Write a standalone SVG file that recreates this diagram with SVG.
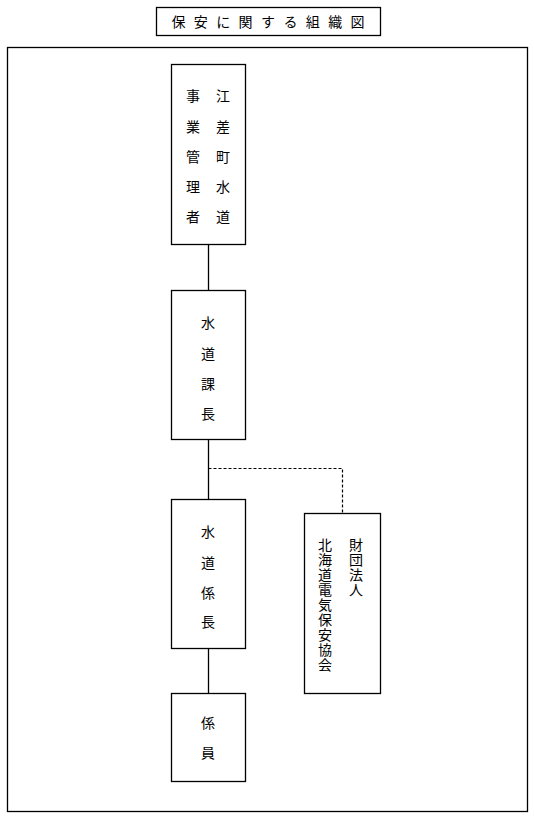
<svg xmlns="http://www.w3.org/2000/svg" width="534" height="819" viewBox="0 0 534 819">
<style>
.box{fill:#fff;stroke:#000;stroke-width:1.3}
.ln{fill:none;stroke:#000;stroke-width:1.3}
.dash{fill:none;stroke:#000;stroke-width:1.2;stroke-dasharray:3 2}
text{font-family:"Noto Sans CJK JP","Noto Sans CJK SC",sans-serif;font-size:14px;fill:#000;text-anchor:middle;dominant-baseline:central}
.v{writing-mode:vertical-rl;text-anchor:start;letter-spacing:1px}
</style>
<rect width="534" height="819" fill="#fff"/>
<g id="title">
<rect class="box" x="156.5" y="7.5" width="224" height="28"/>
<text x="268" y="21" style="letter-spacing:8.4px" dx="4.2">保安に関する組織図</text>
</g>
<rect id="frame" class="box" x="7.5" y="47.5" width="520" height="764"/>
<g id="connectors">
<line class="ln" x1="208.5" y1="244" x2="208.5" y2="290"/>
<line class="ln" x1="208.5" y1="439" x2="208.5" y2="499"/>
<line class="ln" x1="208.5" y1="648" x2="208.5" y2="693"/>
<polyline class="dash" points="208.5,468.5 342.5,468.5 342.5,513"/>
</g>
<g id="n1">
<rect class="box" x="171.5" y="64.5" width="74" height="180"/>
<text><tspan x="223" y="95">江</tspan><tspan x="223" y="126">差</tspan><tspan x="223" y="156">町</tspan><tspan x="223" y="186">水</tspan><tspan x="223" y="216">道</tspan></text>
<text><tspan x="193" y="95">事</tspan><tspan x="193" y="126">業</tspan><tspan x="193" y="156">管</tspan><tspan x="193" y="186">理</tspan><tspan x="193" y="216">者</tspan></text>
</g>
<g id="n2">
<rect class="box" x="171.5" y="290.5" width="74" height="149"/>
<text><tspan x="208" y="322">水</tspan><tspan x="208" y="353">道</tspan><tspan x="208" y="383">課</tspan><tspan x="208" y="413">長</tspan></text>
</g>
<g id="n3">
<rect class="box" x="171.5" y="499.5" width="74" height="149"/>
<text><tspan x="208" y="531">水</tspan><tspan x="208" y="562">道</tspan><tspan x="208" y="592">係</tspan><tspan x="208" y="621">長</tspan></text>
</g>
<g id="n4">
<rect class="box" x="171.5" y="693.5" width="74" height="88"/>
<text><tspan x="208" y="722">係</tspan><tspan x="208" y="752">員</tspan></text>
</g>
<g id="n5">
<rect class="box" x="304.5" y="513.5" width="76" height="180"/>
<text class="v" x="356" y="537.5">財団法人</text>
<text class="v" x="325" y="537.5">北海道電気保安協会</text>
</g>
</svg>
